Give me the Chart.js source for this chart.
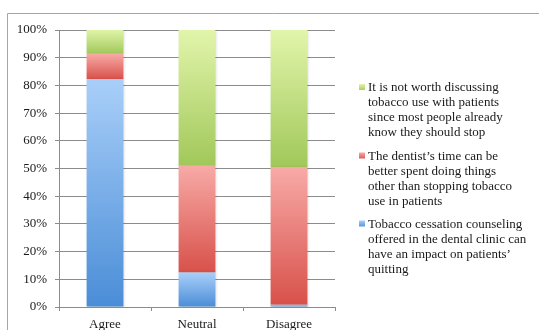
<!DOCTYPE html>
<html>
<head>
<meta charset="utf-8">
<script src="https://cdn.jsdelivr.net/npm/chart.js@4/dist/chart.umd.min.js"></script>
<style>
  html, body { margin: 0; padding: 0; background: #fff; }
  #wrap { width: 539px; height: 330px; position: relative; }
</style>
</head>
<body>
<div id="wrap"><canvas id="chart" width="539" height="330"></canvas></div>
<script>
// Survey responses (percent of respondents) per answer category
const categories = ['Agree', 'Neutral', 'Disagree'];
const counselingImpact = [82.2, 12.5, 0.8];
const timeBetterSpent = [9.2, 38.5, 49.7];
const notWorthDiscussing = [8.8, 49.0, 49.5];
const yTickValues = [0, 10, 20, 30, 40, 50, 60, 70, 80, 90, 100];

// Legend wording, one entry per line
const counselingLabel = ['Tobacco cessation counseling', 'offered in the dental clinic can', 'have an impact on patients\u2019', 'quitting'];
const timeLabel = ['The dentist\u2019s time can be', 'better spent doing things', 'other than stopping tobacco', 'use in patients'];
const notWorthLabel = ['It is not worth discussing', 'tobacco use with patients', 'since most people already', 'know they should stop'];

const FONT = '"Liberation Serif", "Times New Roman", serif';
const TEXT = '#1a1a1a';

// light (top) and dark (bottom) ends of each series' fill
const palette = [
  { light: '#a9cff9', dark: '#4a8dd7' },
  { light: '#f8aaa7', dark: '#d8514a' },
  { light: '#e2f5ab', dark: '#a1c85a' }
];

const seriesValues = [counselingImpact, timeBetterSpent, notWorthDiscussing];

// per-segment vertical gradient, light at the top of the segment and darker at its base
function segmentFill(ctx) {
  const ds = ctx.datasetIndex;
  const colors = palette[ds];
  const chart = ctx.chart;
  const y = chart.scales && chart.scales.y;
  if (ctx.type !== 'data' || !y || !chart.chartArea) return colors.dark;
  const i = ctx.dataIndex;
  let start = 0;
  for (let k = 0; k < ds; k++) start += seriesValues[k][i];
  const end = start + seriesValues[ds][i];
  const top = y.getPixelForValue(end);
  const bottom = y.getPixelForValue(start);
  if (!isFinite(top) || !isFinite(bottom) || top === bottom) return colors.dark;
  const g = chart.ctx.createLinearGradient(0, top, 0, bottom);
  g.addColorStop(0, colors.light);
  g.addColorStop(1, colors.dark);
  return g;
}

// thin gray frame around the chart
const framePlugin = {
  id: 'frame',
  beforeDraw(chart) {
    const c = chart.ctx;
    c.save();
    c.strokeStyle = '#a6a6a6';
    c.lineWidth = 1;
    c.beginPath();
    c.moveTo(7.5, chart.height);
    c.lineTo(7.5, 13.5);
    c.lineTo(chart.width, 13.5);
    c.stroke();
    c.restore();
  }
};

// soft drop shadow under the bars
const shadowPlugin = {
  id: 'barShadow',
  beforeDatasetsDraw(chart) {
    const c = chart.ctx;
    c.save();
    c.shadowColor = 'rgba(0,0,0,0.22)';
    c.shadowBlur = 3;
    c.shadowOffsetX = 1;
    c.shadowOffsetY = 1;
  },
  afterDatasetsDraw(chart) {
    chart.ctx.restore();
  }
};

// wrapped legend on the right, top series listed first
const legendPlugin = {
  id: 'wrappedLegend',
  afterDraw(chart) {
    const c = chart.ctx;
    const items = [
      { lines: notWorthLabel, colors: palette[2], y: 88 },
      { lines: timeLabel, colors: palette[1], y: 156.5 },
      { lines: counselingLabel, colors: palette[0], y: 224.5 }
    ];
    c.save();
    c.font = '13px ' + FONT;
    c.fillStyle = TEXT;
    c.textBaseline = 'middle';
    c.textAlign = 'left';
    items.forEach(item => {
      const g = c.createLinearGradient(0, item.y - 4, 0, item.y + 3);
      g.addColorStop(0, item.colors.light);
      g.addColorStop(1, item.colors.dark);
      c.fillStyle = g;
      c.fillRect(359, item.y - 4, 6, 6);
      c.fillStyle = TEXT;
      item.lines.forEach((line, k) => c.fillText(line, 368, item.y + k * 15));
    });
    c.restore();
  }
};

const datasetLabels = [counselingLabel.join(' '), timeLabel.join(' '), notWorthLabel.join(' ')];

new Chart(document.getElementById('chart'), {
  type: 'bar',
  data: {
    labels: categories,
    datasets: seriesValues.map((values, k) => ({
      label: datasetLabels[k],
      data: values,
      backgroundColor: segmentFill,
      borderWidth: 0,
      barPercentage: 0.4,
      categoryPercentage: 1.0
    }))
  },
  options: {
    responsive: false,
    animation: false,
    layout: { padding: { top: 30, right: 204, bottom: 0, left: 0 } },
    plugins: {
      legend: { display: false },
      tooltip: { enabled: false }
    },
    scales: {
      x: {
        stacked: true,
        grid: { drawOnChartArea: false, drawTicks: true, tickLength: 4, color: '#8c8c8c', offset: true },
        border: { display: true, color: '#8c8c8c' },
        ticks: { font: { family: FONT, size: 13 }, color: TEXT, padding: 6 },
        afterFit(scale) { scale.height = 23; }
      },
      y: {
        stacked: true,
        min: 0,
        max: 100,
        afterBuildTicks(scale) { scale.ticks = yTickValues.map(v => ({ value: v })); },
        grid: { color: '#8c8c8c', tickLength: 4, drawTicks: true },
        border: { display: true, color: '#8c8c8c' },
        ticks: {
          font: { family: FONT, size: 13 },
          color: TEXT,
          padding: 8,
          callback: v => v + '%'
        },
        afterFit(scale) { scale.width = 59; }
      }
    }
  },
  plugins: [framePlugin, shadowPlugin, legendPlugin]
});
</script>
</body>
</html>
